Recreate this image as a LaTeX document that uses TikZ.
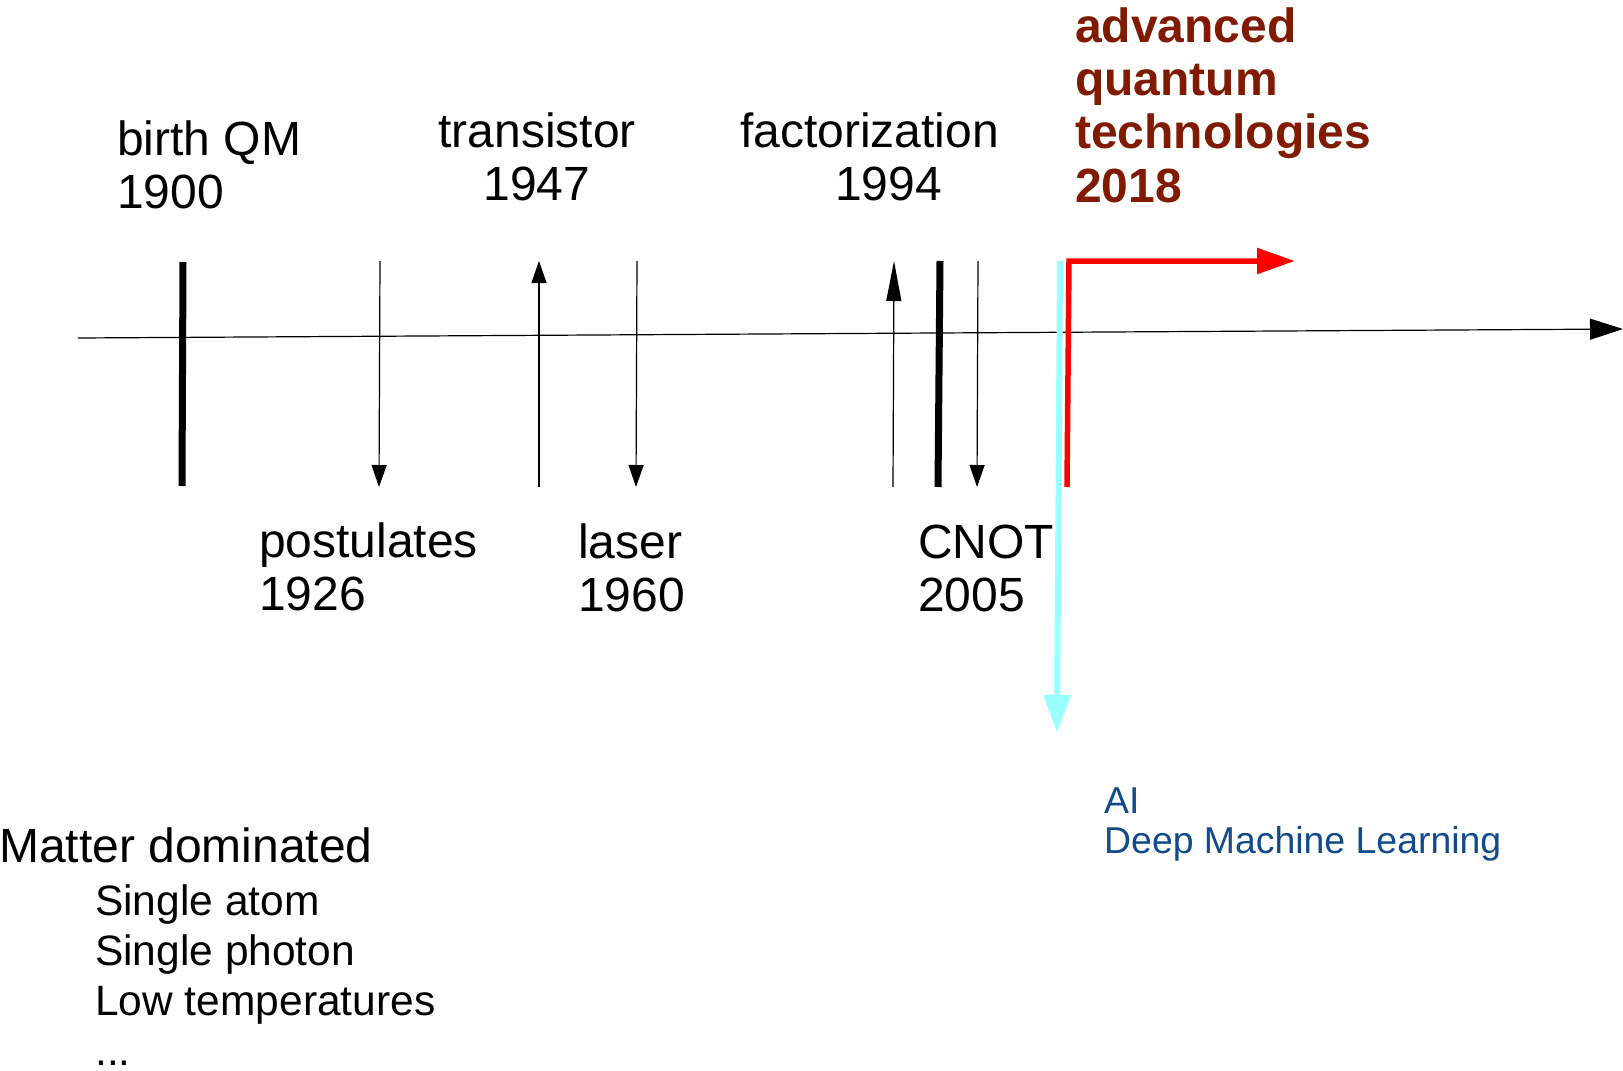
\documentclass[tikz,border=0pt]{standalone}
\usepackage{fontspec}
\setmainfont{Liberation Sans}
\usetikzlibrary{arrows.meta}
\definecolor{rossoscuro}{RGB}{128,26,0}
\definecolor{bluscuro}{RGB}{17,75,140}
\definecolor{ciano}{RGB}{153,255,255}

\begin{document}
\begin{tikzpicture}[x=1pt, y=-1pt,
		freccia/.style={line width=1.2pt, -{Triangle[length=22pt, width=15pt]}},
		barra/.style={line width=7pt},
		testo/.style={inner sep=0pt, anchor=base west, align=left, font=\fontsize{48}{53}\selectfont}]
		\useasboundingbox (0,0) rectangle (1623,1071);
		% asse del tempo
		\draw[line width=1.2pt, -{Triangle[length=33pt, width=21pt]}] (78,338) -- (1623,329);
		% tacche spesse
		\draw[barra] (183,262) -- (182,486);
		\draw[barra] (940,261) -- (938,487);
		% frecce sottili
		\draw[freccia] (380,261) -- (379,487);
		\draw[freccia] (539,487) -- (539,261);
		\draw[freccia] (637,261) -- (636,487);
		\draw[freccia, -{Triangle[length=40pt, width=15pt]}] (893,487) -- (894,261);
		\draw[freccia] (978,261) -- (977,487);
		% frecce colorate
		\draw[ciano, line width=6pt, -{Triangle[length=38pt, width=26pt]}]
		(1060,261) --
		(1057,733);
		\draw[red, line width=5.5pt, -{Triangle[length=38pt, width=25pt]}]
		(1067,487) --
		(1069,261) --
		(1295,261);
		% etichette sopra (ancorate all'ultima riga)
		\node[testo] (nascita) at (117,208) {birth QM\\1900};
		\node[testo, anchor=base, align=center] (transistor) at (537,200) {transistor\\1947};
		\node[testo] (fattorizzazione) at (740,200) {factorization\\\hspace*{95pt}1994};
		\node[testo, font=\bfseries\fontsize{48}{53.3}\selectfont, text=rossoscuro] (tecnologie) at (1075,202) {advanced\\quantum\\technologies\\2018};
		% etichette sotto
		\node[testo] (postulati) at (259,610) {postulates\\1926};
		\node[testo] (laser) at (578,611) {laser\\1960};
		\node[testo] (cnot) at (918,611) {CNOT\\2005};
		\node[testo, font=\fontsize{37.4}{40}\selectfont, text=bluscuro] (ia) at (1104,853) {AI\\Deep Machine Learning};
		% materia
		\node[testo] (materia) at (-1,862) {Matter dominated};
		\node[testo, font=\fontsize{42.5}{50}\selectfont] (esempi) at (95,1065) {Single atom\\Single photon\\Low temperatures\\...};
	\end{tikzpicture}
\end{document}
